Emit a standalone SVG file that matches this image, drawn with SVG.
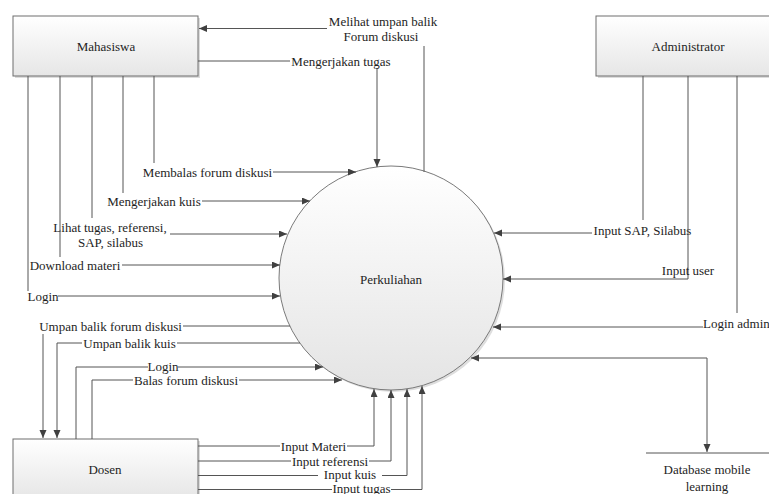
<svg xmlns="http://www.w3.org/2000/svg" width="769" height="494" viewBox="0 0 769 494" font-family="'Liberation Serif', 'DejaVu Serif', 'Times New Roman', serif">
<style>
text{font-family:"Liberation Serif","DejaVu Serif","Times New Roman",serif;font-size:13px;fill:#1e1e1e}
.m{text-anchor:middle}
.box{stroke:#6e6e6e;stroke-width:1;fill:url(#gb)}
.shadow{fill:#dcdcdc}
.ln{fill:none;stroke:#555;stroke-width:1}
.ar{marker-end:url(#ah)}
</style>
<defs>
<linearGradient id="gb" x1="0" y1="0" x2="0" y2="1">
<stop offset="0" stop-color="#ffffff"/>
<stop offset="1" stop-color="#e6e6e6"/>
</linearGradient>
<linearGradient id="gc" x1="0" y1="0" x2="0" y2="1">
<stop offset="0" stop-color="#ffffff"/>
<stop offset="1" stop-color="#e4e4e4"/>
</linearGradient>
<marker id="ah" markerWidth="9" markerHeight="8" refX="8" refY="3.5" orient="auto-start-reverse" markerUnits="userSpaceOnUse">
<path d="M0,0 L8,3.5 L0,7 z" fill="#404040"/>
</marker>
</defs>
<rect width="769" height="494" fill="#ffffff"/>

<g id="mahasiswa">
<rect class="shadow" x="15" y="18" width="185" height="60"/>
<rect class="box" x="13" y="16" width="185" height="60"/>
<text class="m" x="106" y="51">Mahasiswa</text>
</g>

<g id="administrator">
<rect class="shadow" x="598" y="18" width="184" height="60"/>
<rect class="box" x="596" y="16" width="184" height="60"/>
<text class="m" x="688" y="50.5">Administrator</text>
</g>

<g id="dosen">
<rect class="shadow" x="15" y="441" width="185" height="60"/>
<rect class="box" x="13" y="439" width="185" height="60"/>
<text class="m" x="105" y="473.5">Dosen</text>
</g>

<g id="perkuliahan">
<circle cx="393" cy="280" r="112" fill="#dedede"/>
<circle cx="391" cy="278" r="112" fill="url(#gc)" stroke="#7a7a7a" stroke-width="1"/>
<text class="m" x="391" y="283.5">Perkuliahan</text>
</g>

<g id="database">
<line x1="646" y1="453" x2="769" y2="453" stroke="#555" stroke-width="1"/>
<text class="m" x="707" y="473.5">Database mobile</text>
<text class="m" x="707" y="490.5">learning</text>
</g>

<g id="connectors">
<path class="ln" d="M424,172 V46"/>
<path class="ln ar" d="M327,28.5 H199"/>
<text class="m" x="383" y="26">Melihat umpan balik</text>
<text class="m" x="381" y="41">Forum diskusi</text>

<path class="ln" d="M198,61 H290"/>
<path class="ln ar" d="M377,68 V167"/>
<text class="m" x="341" y="66">Mengerjakan tugas</text>

<path class="ln" d="M154,76 V163"/>
<path class="ln ar" d="M273,172 H356"/>
<text class="m" x="207.5" y="176.5">Membalas forum diskusi</text>

<path class="ln" d="M123,76 V193"/>
<path class="ln ar" d="M202,201 H310"/>
<text class="m" x="154" y="205.5">Mengerjakan kuis</text>

<path class="ln" d="M92,76 V218"/>
<path class="ln ar" d="M170,234 H287"/>
<text class="m" x="110" y="231.5">Lihat tugas, referensi,</text>
<text class="m" x="110.5" y="246.5">SAP, silabus</text>

<path class="ln" d="M60,76 V257"/>
<path class="ln ar" d="M122,265 H280"/>
<text class="m" x="75" y="269.5">Download materi</text>

<path class="ln" d="M28,76 V291"/>
<path class="ln ar" d="M58,296 H280"/>
<text class="m" x="43" y="300.5">Login</text>

<path class="ln" d="M290,326 H183"/>
<path class="ln ar" d="M43,334 V438"/>
<text class="m" x="110.5" y="330.5">Umpan balik forum diskusi</text>

<path class="ln" d="M300,343 H177"/>
<path class="ln ar" d="M82,343 H57 V438"/>
<text class="m" x="129.5" y="347.5">Umpan balik kuis</text>

<path class="ln" d="M148,367 H76 V439"/>
<path class="ln ar" d="M178,367 H323"/>
<text class="m" x="163" y="370.5">Login</text>

<path class="ln" d="M133,380 H92 V439"/>
<path class="ln ar" d="M239,380 H342"/>
<text class="m" x="186" y="384.5">Balas forum diskusi</text>

<path class="ln" d="M198,446 H280"/>
<path class="ln ar" d="M347,446 H374 V389"/>
<text class="m" x="313.5" y="450.5">Input Materi</text>

<path class="ln" d="M198,461 H291"/>
<path class="ln ar" d="M369,461 H391 V390"/>
<text class="m" x="330" y="465.5">Input referensi</text>

<path class="ln" d="M198,475.5 H318"/>
<path class="ln ar" d="M382,475.5 H407 V389"/>
<text class="m" x="350" y="479">Input kuis</text>

<path class="ln" d="M198,489.5 H332"/>
<path class="ln ar" d="M391,489.5 H422 V386"/>
<text class="m" x="361.5" y="493">Input tugas</text>

<path class="ln" d="M643,76 V220"/>
<path class="ln ar" d="M592,233 H494"/>
<text class="m" x="642.5" y="234.5">Input SAP, Silabus</text>

<path class="ln ar" d="M688,76 V279 H503"/>
<text class="m" x="688" y="274.5">Input user</text>

<path class="ln" d="M737,76 V313"/>
<path class="ln ar" d="M703,327 H493"/>
<text x="703" y="327.5">Login admin</text>

<path class="ln" d="M471,358 H707 V452" marker-start="url(#ah)" marker-end="url(#ah)"/>
</g>
</svg>
